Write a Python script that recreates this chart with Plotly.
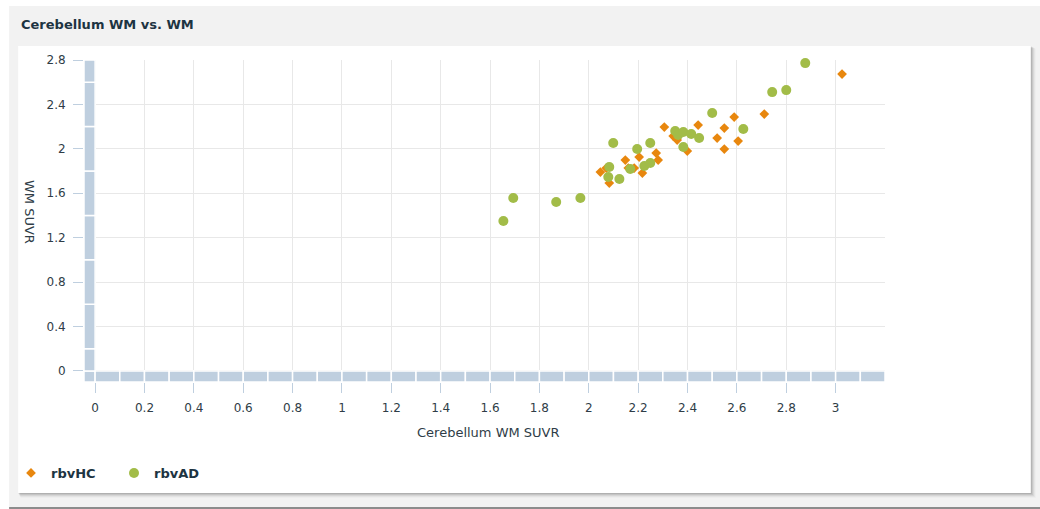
import numpy as np
import plotly.graph_objects as go

# ---- data: cerebellar white-matter SUVR vs. white-matter SUVR ----
hc_cereb_wm = [2.047, 2.071, 2.083, 2.148, 2.160, 2.184, 2.204, 2.217, 2.273, 2.281,
               2.306, 2.342, 2.358, 2.399, 2.443, 2.520, 2.549, 2.589, 2.605, 2.549,
               2.711, 3.026]
hc_wm = [1.791, 1.827, 1.692, 1.899, 1.827, 1.827, 1.926, 1.782, 1.962, 1.899,
         2.196, 2.115, 2.079, 1.980, 2.214, 2.097, 2.187, 2.286, 2.070, 1.998,
         2.313, 2.673]

ad_cereb_wm = [1.654, 1.694, 1.868, 1.966, 2.099, 2.196, 2.249, 2.083, 2.079, 2.124,
               2.168, 2.225, 2.249, 2.350, 2.362, 2.383, 2.415, 2.447, 2.383, 2.500,
               2.626, 2.743, 2.800, 2.877]
ad_wm = [1.350, 1.557, 1.521, 1.557, 2.052, 1.998, 2.052, 1.836, 1.746, 1.728,
         1.818, 1.845, 1.872, 2.160, 2.124, 2.151, 2.133, 2.097, 2.016, 2.322,
         2.178, 2.511, 2.529, 2.772]

x_ticks = [0, 0.2, 0.4, 0.6, 0.8, 1, 1.2, 1.4, 1.6, 1.8, 2, 2.2, 2.4, 2.6, 2.8, 3]
y_ticks = [0, 0.4, 0.8, 1.2, 1.6, 2, 2.4, 2.8]

# ---- geometry ----
W, H = 1040, 509
ML, MR, MT, MB = 83, 155, 60, 127
PW, PH = W - ML - MR, H - MT - MB
X_RANGE = [-0.045, 3.2]
Y_RANGE = [-0.1, 2.8]

def px_x(p):
    return (p - ML) / PW

def px_y(p):
    return (MT + PH - p) / PH

TEXT = "#2f3d47"
STRIP = "#bfcfdf"
ORANGE = "#e8870e"
GREEN = "#a2bc48"
FONT = "DejaVu Sans"

fig = go.Figure()

fig.add_trace(go.Scatter(
    x=hc_cereb_wm, y=hc_wm, mode="markers", name="rbvHC", cliponaxis=False,
    marker=dict(symbol="diamond", size=7.5, color=ORANGE, line=dict(width=0)),
))
fig.add_trace(go.Scatter(
    x=ad_cereb_wm, y=ad_wm, mode="markers", name="rbvAD", cliponaxis=False,
    marker=dict(symbol="circle", size=10, color=GREEN, line=dict(width=0)),
))

shapes = []

# page panel, card shadow and card
shapes.append(dict(type="rect", xref="paper", yref="paper", layer="below",
                   x0=px_x(8), x1=px_x(W + 5), y0=px_y(6), y1=px_y(H + 5),
                   fillcolor="#f2f2f2", line=dict(width=0)))
for i, a in enumerate([0.10, 0.08, 0.06, 0.04, 0.02]):
    d = i + 1
    shapes.append(dict(type="rect", xref="paper", yref="paper", layer="below",
                       x0=px_x(17 + d * 0.5), x1=px_x(1031 + d), y0=px_y(46 + d * 0.5), y1=px_y(493 + d),
                       fillcolor=f"rgba(0,0,0,{a})", line=dict(width=0)))
shapes.append(dict(type="rect", xref="paper", yref="paper", layer="below",
                   x0=px_x(17), x1=px_x(1031), y0=px_y(46), y1=px_y(493),
                   fillcolor="white", line=dict(width=0)))
shapes.append(dict(type="rect", xref="paper", yref="paper", layer="below",
                   x0=px_x(8), x1=px_x(W + 5), y0=px_y(507), y1=px_y(H + 5),
                   fillcolor="#8c8c8c", line=dict(width=0)))

# segmented strip along the x axis
x_edges = [X_RANGE[0]] + list(np.round(np.arange(0, 3.2001, 0.1), 3))
for a, b in zip(x_edges[:-1], x_edges[1:]):
    shapes.append(dict(type="rect", xref="x", yref="y", layer="between",
                       x0=a, x1=b, y0=Y_RANGE[0], y1=0,
                       fillcolor=STRIP, line=dict(color="white", width=1.5)))
# segmented strip along the y axis
y_edges = [0, 0.2, 0.6, 1.0, 1.4, 1.8, 2.2, 2.6, 2.8]
for a, b in zip(y_edges[:-1], y_edges[1:]):
    shapes.append(dict(type="rect", xref="x", yref="y", layer="between",
                       x0=X_RANGE[0], x1=0, y0=a, y1=b,
                       fillcolor=STRIP, line=dict(color="white", width=1.5)))

annotations = [
    dict(text="<b>Cerebellum WM vs. WM</b>", xref="paper", yref="paper",
         x=px_x(18), y=px_y(24), xanchor="left", yanchor="middle", showarrow=False,
         font=dict(family=FONT, size=13, color="#1d3442")),
    dict(text="WM SUVR", xref="paper", yref="paper", textangle=90,
         x=px_x(29), y=px_y(212), xanchor="center", yanchor="middle", showarrow=False,
         font=dict(family=FONT, size=13, color=TEXT)),
    dict(text="Cerebellum WM SUVR", xref="paper", yref="paper",
         x=px_x(488), y=px_y(433), xanchor="center", yanchor="middle", showarrow=False,
         font=dict(family=FONT, size=13, color=TEXT)),
]

axis_common = dict(
    showline=False, zeroline=False, showgrid=True, gridcolor="#e8e8e8", gridwidth=1,
    ticks="outside", ticklen=10, tickwidth=1, tickcolor=STRIP,
    tickfont=dict(family=FONT, size=12, color=TEXT),
)

fig.update_layout(
    width=W, height=H,
    margin=dict(l=ML, r=MR, t=MT, b=MB, pad=0),
    paper_bgcolor="white", plot_bgcolor="rgba(0,0,0,0)",
    xaxis=dict(range=X_RANGE, tickvals=x_ticks, ticklabelstandoff=5, **axis_common),
    yaxis=dict(range=Y_RANGE, tickvals=y_ticks, ticklabelstandoff=5, **axis_common),
    shapes=shapes, annotations=annotations,
    showlegend=True,
    legend=dict(orientation="h", x=px_x(11), y=px_y(473), xanchor="left", yanchor="middle",
                bgcolor="rgba(0,0,0,0)", borderwidth=0,
                font=dict(family=FONT, size=13, color="#1d3442", weight="bold"),
                entrywidth=58, entrywidthmode="pixels"),
)

fig.write_html("out.html")
